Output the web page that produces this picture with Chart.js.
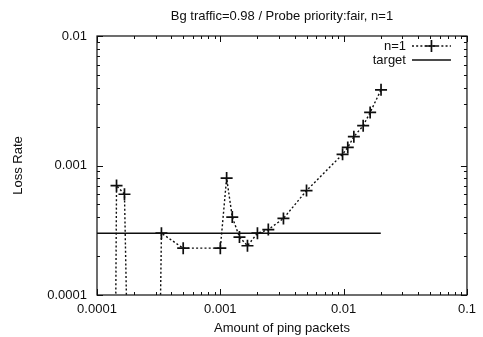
<!DOCTYPE html>
<html>
<head>
<meta charset="utf-8">
<script src="https://cdn.jsdelivr.net/npm/chart.js@4/dist/chart.umd.min.js"></script>
<style>
  html, body { margin: 0; padding: 0; background: #fff; }
  #wrap { width: 483px; height: 337px; }
</style>
</head>
<body>
<div id="wrap"><canvas id="lossChart" width="483" height="337"></canvas></div>
<script>
const chartTitle = 'Bg traffic=0.98 / Probe priority:fair, n=1';
const xTitle = 'Amount of ping packets';
const yTitle = 'Loss Rate';
const seriesLabels = ['n=1', 'target'];

// ping load vs. measured loss rate, 0 = no loss seen in that run
const pingAmount = [0.000125, 0.000144, 0.000167, 0.00025, 0.000333, 0.0005, 0.001, 0.001125, 0.00125, 0.00143, 0.00166, 0.002, 0.00245, 0.00325, 0.005, 0.0098, 0.0108, 0.0121, 0.0144, 0.0164, 0.0201];
const lossRate   = [0, 0.0007, 0.0006, 0, 0.0003, 0.00023, 0.00023, 0.0008, 0.0004, 0.00028, 0.00024, 0.0003, 0.00032, 0.00039, 0.00064, 0.00122, 0.00138, 0.00167, 0.00203, 0.00257, 0.00384];

// target loss level
const targetX = [0.0001, 0.02];
const targetY = [0.0003, 0.0003];

const xTicks = [0.0001, 0.001, 0.01, 0.1];
const yTicks = [0.0001, 0.001, 0.01];

// a log axis has no 0, so pin zero-loss runs far below the frame
const NO_LOSS = 1e-12;
const INK = '#0e0e0e';
const FONT = { family: '"Liberation Sans", Arial, Helvetica, sans-serif', size: 13 };

// gnuplot-like box with inward major/minor ticks on all four sides
const frameTicks = {
  id: 'frameTicks',
  afterDatasetsDraw(chart) {
    const { ctx, chartArea: a } = chart;
    const xs = chart.scales.x, ys = chart.scales.y;
    ctx.save();
    ctx.strokeStyle = INK;
    ctx.lineWidth = 1.2;
    ctx.strokeRect(a.left, a.top, a.right - a.left, a.bottom - a.top);
    ctx.lineWidth = 1;
    ctx.beginPath();
    const marks = (min, max, fn) => {
      for (let d = min; d < max * 1.0001; d *= 10) {
        for (let k = 1; k <= 9; k++) {
          const v = d * k;
          if (v > max * 1.0001) break;
          fn(v, k === 1 ? 6 : 3);
        }
      }
    };
    marks(xs.min, xs.max, (v, len) => {
      const px = Math.round(xs.getPixelForValue(v)) + 0.5;
      ctx.moveTo(px, a.bottom); ctx.lineTo(px, a.bottom - len);
      ctx.moveTo(px, a.top); ctx.lineTo(px, a.top + len);
    });
    marks(ys.min, ys.max, (v, len) => {
      const py = Math.round(ys.getPixelForValue(v)) + 0.5;
      ctx.moveTo(a.left, py); ctx.lineTo(a.left + len, py);
      ctx.moveTo(a.right, py); ctx.lineTo(a.right - len, py);
    });
    ctx.stroke();
    ctx.restore();
  }
};

// key in the top right corner, text right-aligned before the sample
const insideKey = {
  id: 'insideKey',
  afterDraw(chart) {
    const { ctx, chartArea: a } = chart;
    const textRight = a.right - 61;
    const x0 = a.right - 55, x1 = a.right - 16;
    ctx.save();
    ctx.font = `${FONT.size}px ${FONT.family}`;
    ctx.fillStyle = INK;
    ctx.textAlign = 'right';
    ctx.textBaseline = 'middle';
    chart.data.datasets.forEach((ds, i) => {
      const y = a.top + 10 + i * 14;
      ctx.fillText(ds.label, textRight, y);
      ctx.strokeStyle = ds.borderColor;
      ctx.lineWidth = ds.borderWidth;
      ctx.setLineDash(ds.borderDash || []);
      ctx.beginPath();
      ctx.moveTo(x0, y); ctx.lineTo(x1, y);
      ctx.stroke();
      if (ds.pointStyle === 'cross') {
        const cx = (x0 + x1) / 2;
        ctx.setLineDash([]);
        ctx.lineWidth = ds.pointBorderWidth;
        ctx.beginPath();
        ctx.moveTo(cx - 6, y); ctx.lineTo(cx + 6, y);
        ctx.moveTo(cx, y - 6); ctx.lineTo(cx, y + 6);
        ctx.stroke();
      }
    });
    ctx.restore();
  }
};

const ctx = document.getElementById('lossChart').getContext('2d');
new Chart(ctx, {
  type: 'scatter',
  data: {
    datasets: [
      {
        label: seriesLabels[0],
        data: pingAmount.map((x, i) => ({ x, y: lossRate[i] > 0 ? lossRate[i] : NO_LOSS })),
        showLine: true,
        tension: 0,
        borderColor: INK,
        borderWidth: 1.4,
        borderDash: [2, 2.2],
        pointStyle: 'cross',
        pointRadius: lossRate.map(v => (v > 0 ? 6 : 0)),
        pointBorderWidth: 1.7,
        pointBorderColor: INK,
        pointBackgroundColor: INK,
        clip: 0
      },
      {
        label: seriesLabels[1],
        data: targetX.map((x, i) => ({ x, y: targetY[i] })),
        showLine: true,
        borderColor: INK,
        borderWidth: 1.6,
        pointRadius: 0,
        clip: 0
      }
    ]
  },
  options: {
    responsive: false,
    animation: false,
    events: [],
    layout: { padding: { left: 0, right: 10, top: 0, bottom: 0 } },
    plugins: {
      legend: { display: false },
      tooltip: { enabled: false },
      title: {
        display: true,
        text: chartTitle,
        color: INK,
        fullSize: false,
        font: { ...FONT, weight: 'normal' },
        padding: { top: 9, bottom: 11.4 }
      }
    },
    scales: {
      x: {
        type: 'logarithmic',
        position: 'bottom',
        min: xTicks[0],
        max: xTicks[xTicks.length - 1],
        grid: { display: false, drawTicks: false },
        border: { display: false },
        afterBuildTicks: s => { s.ticks = xTicks.map(v => ({ value: v })); },
        afterFit: s => { s.height = 42; },
        ticks: {
          autoSkip: false,
          maxRotation: 0,
          padding: 7,
          color: INK,
          font: FONT,
          callback: v => String(v)
        },
        title: { display: true, text: xTitle, color: INK, font: FONT, padding: { top: 0, bottom: 1 } }
      },
      y: {
        type: 'logarithmic',
        position: 'left',
        min: yTicks[0],
        max: yTicks[yTicks.length - 1],
        grid: { display: false, drawTicks: false },
        border: { display: false },
        afterBuildTicks: s => { s.ticks = yTicks.map(v => ({ value: v })); },
        afterFit: s => { s.width = 97; },
        ticks: {
          autoSkip: false,
          padding: 10,
          color: INK,
          font: FONT,
          callback: v => String(v)
        },
        title: { display: true, text: yTitle, color: INK, font: FONT, padding: { top: 11, bottom: 0 } }
      }
    }
  },
  plugins: [frameTicks, insideKey]
});
</script>
</body>
</html>
